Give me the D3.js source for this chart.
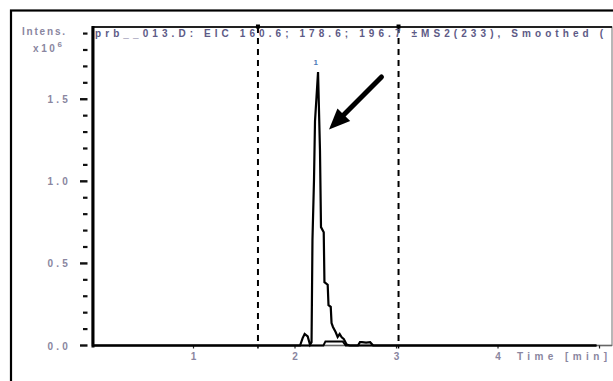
<!DOCTYPE html>
<html>
<head>
<meta charset="utf-8">
<script src="https://cdn.jsdelivr.net/npm/d3@7/dist/d3.min.js"></script>
<style>
  html, body { margin: 0; padding: 0; background: #fff; }
  svg { display: block; }
  text { font-family: "Liberation Sans", Arial, sans-serif; font-weight: bold; }
</style>
</head>
<body>
<svg id="chart" width="613" height="381"></svg>
<script>
// ---- data ----
const titleText = "prb__013.D: EIC 160.6; 178.6; 196.7 \u00b1MS2(233), Smoothed (";
const yTitle = "Intens.";
const yExp = "x10";
const yExpSup = "6";
const xTitle = "Time [min]";

const mainTime = [0, 2.05, 2.075, 2.095, 2.125, 2.148, 2.163, 2.172, 2.187, 2.197, 2.227, 2.246, 2.256, 2.283, 2.29, 2.322, 2.33, 2.352, 2.36, 2.374, 2.40, 2.42, 2.44, 2.46, 2.48, 2.51, 2.54, 2.62, 2.64, 2.66, 2.70, 2.74, 2.77, 4.97];
const mainIntensity = [0, 0, 0.045, 0.07, 0.055, 0.005, 0.02, 0.642, 1.007, 1.366, 1.665, 1.19, 0.721, 0.69, 0.386, 0.37, 0.246, 0.235, 0.137, 0.113, 0.082, 0.052, 0.07, 0.05, 0.04, 0.005, 0, 0, 0.02, 0.02, 0.018, 0.02, 0, 0];

const secondTime = [0, 2.28, 2.30, 2.47, 2.50, 4.97];
const secondIntensity = [0, 0, 0.025, 0.025, 0, 0];

const yMajorTicks = [0.0, 0.5, 1.0, 1.5];
const yMinorTicks = [0.1, 0.2, 0.3, 0.4, 0.6, 0.7, 0.8, 0.9, 1.1, 1.2, 1.3, 1.4, 1.6, 1.7, 1.8, 1.9];
const xTicks = [1, 2, 3, 4, 5];
const xTickLabels = ["1", "2", "3", "4"];
const dashedTimes = [1.635, 3.02];

const peakLabel = { t: 2.205, i: 1.665, text: "1" };
const arrowFrom = { t: 2.852, i: 1.636 };
const arrowTo = { t: 2.335, i: 1.315 };

// ---- layout ----
const svg = d3.select("#chart");
const L = 92, R = 612, T = 27, B = 345.5;
const x = d3.scaleLinear().domain([0, 5.123]).range([L, R]);
const y = d3.scaleLinear().domain([0, 1.94]).range([B, T]);

const labelColor = "#8a86a0";

// outer frame
svg.append("rect").attr("x", 11).attr("y", 10.5).attr("width", 620).attr("height", 400)
  .attr("fill", "none").attr("stroke", "#000").attr("stroke-width", 2.2);

// plot frame (light)
svg.append("rect").attr("x", L).attr("y", T).attr("width", R - L).attr("height", B - T)
  .attr("fill", "none").attr("stroke", "#888").attr("stroke-width", 1.2);
svg.append("line").attr("x1", L).attr("x2", R).attr("y1", T).attr("y2", T)
  .attr("stroke", "#222").attr("stroke-width", 2);
svg.append("line").attr("x1", L + 1).attr("x2", L + 1).attr("y1", T - 1).attr("y2", B + 2)
  .attr("stroke", "#000").attr("stroke-width", 3);
svg.append("line").attr("x1", L).attr("x2", R).attr("y1", B).attr("y2", B)
  .attr("stroke", "#666").attr("stroke-width", 1.5);

// y ticks (detached from axis)
svg.selectAll(".ymaj").data(yMajorTicks).enter().append("line")
  .attr("x1", 80).attr("x2", 87.5).attr("y1", d => y(d)).attr("y2", d => y(d))
  .attr("stroke", "#111").attr("stroke-width", 2.4);
svg.selectAll(".ymin").data(yMinorTicks).enter().append("line")
  .attr("x1", 83).attr("x2", 87.5).attr("y1", d => y(d)).attr("y2", d => y(d))
  .attr("stroke", "#111").attr("stroke-width", 2.2);
svg.selectAll(".ylab").data(yMajorTicks).enter().append("text")
  .attr("x", 71).attr("y", d => y(d) + 4).attr("text-anchor", "end")
  .attr("font-size", 10).attr("letter-spacing", 3.2).attr("fill", labelColor)
  .text(d => d3.format(".1f")(d));

// y title
svg.append("text").attr("x", 22).attr("y", 35).attr("font-size", 10)
  .attr("letter-spacing", 1.8).attr("fill", labelColor).text(yTitle);
const ye = svg.append("text").attr("x", 33).attr("y", 52).attr("font-size", 10)
  .attr("letter-spacing", 2.6).attr("fill", labelColor);
ye.append("tspan").text(yExp);
ye.append("tspan").attr("dy", -5).attr("font-size", 8).text(yExpSup);

// x ticks
svg.selectAll(".xt").data(xTicks).enter().append("line")
  .attr("x1", d => x(d)).attr("x2", d => x(d)).attr("y1", B).attr("y2", B + 3)
  .attr("stroke", "#222").attr("stroke-width", 1.2);
svg.selectAll(".xlab").data(xTickLabels).enter().append("text")
  .attr("x", (d, i) => x(xTicks[i])).attr("y", 360).attr("text-anchor", "middle")
  .attr("font-size", 10).attr("fill", labelColor).text(d => d);
svg.append("text").attr("x", 517).attr("y", 360).attr("font-size", 10)
  .attr("fill", labelColor).attr("textLength", 90).attr("lengthAdjust", "spacing").text(xTitle);

// dashed verticals
svg.selectAll(".dash").data(dashedTimes).enter().append("line")
  .attr("x1", d => x(d)).attr("x2", d => x(d)).attr("y1", T).attr("y2", B)
  .attr("stroke", "#000").attr("stroke-width", 2).attr("stroke-dasharray", "6,5");
svg.selectAll(".dashmark").data(dashedTimes).enter().append("rect")
  .attr("x", d => x(d) - 2).attr("y", T - 2.5).attr("width", 4).attr("height", 4).attr("fill", "#000");
svg.selectAll(".dashbot").data(dashedTimes).enter().append("line")
  .attr("x1", d => x(d)).attr("x2", d => x(d)).attr("y1", B).attr("y2", B + 3)
  .attr("stroke", "#000").attr("stroke-width", 1.5);

// title text
svg.append("text").attr("x", 95).attr("y", 37).attr("font-size", 10)
  .attr("fill", "#5d5a86").attr("textLength", 508).attr("lengthAdjust", "spacing")
  .text(titleText);

// traces
const line = d3.line().x(d => x(d[0])).y(d => y(d[1]));
const secondData = secondTime.map((t, i) => [t, secondIntensity[i]]);
const mainData = mainTime.map((t, i) => [t, mainIntensity[i]]);
svg.append("path").attr("d", line(secondData)).attr("fill", "none")
  .attr("stroke", "#000").attr("stroke-width", 2).attr("stroke-linejoin", "miter");
svg.append("path").attr("d", line(mainData)).attr("fill", "none")
  .attr("stroke", "#000").attr("stroke-width", 2.2).attr("stroke-linejoin", "miter");

// peak label
svg.append("text").attr("x", x(peakLabel.t)).attr("y", y(peakLabel.i) - 7)
  .attr("text-anchor", "middle").attr("font-size", 8).attr("fill", "#4a7ab8").text(peakLabel.text);

// arrow
const ax1 = x(arrowFrom.t), ay1 = y(arrowFrom.i), ax2 = x(arrowTo.t), ay2 = y(arrowTo.i);
const ang = Math.atan2(ay2 - ay1, ax2 - ax1);
const headLen = 21, headW = 9;
const bx = ax2 - headLen * Math.cos(ang), by = ay2 - headLen * Math.sin(ang);
svg.append("line").attr("x1", ax1).attr("y1", ay1).attr("x2", bx).attr("y2", by)
  .attr("stroke", "#000").attr("stroke-width", 5).attr("stroke-linecap", "round");
svg.append("path").attr("fill", "#000").attr("d",
  d3.line()([[ax2, ay2],
    [bx + headW * Math.sin(ang), by - headW * Math.cos(ang)],
    [bx - headW * Math.sin(ang), by + headW * Math.cos(ang)]]) + "Z");
</script>
</body>
</html>
